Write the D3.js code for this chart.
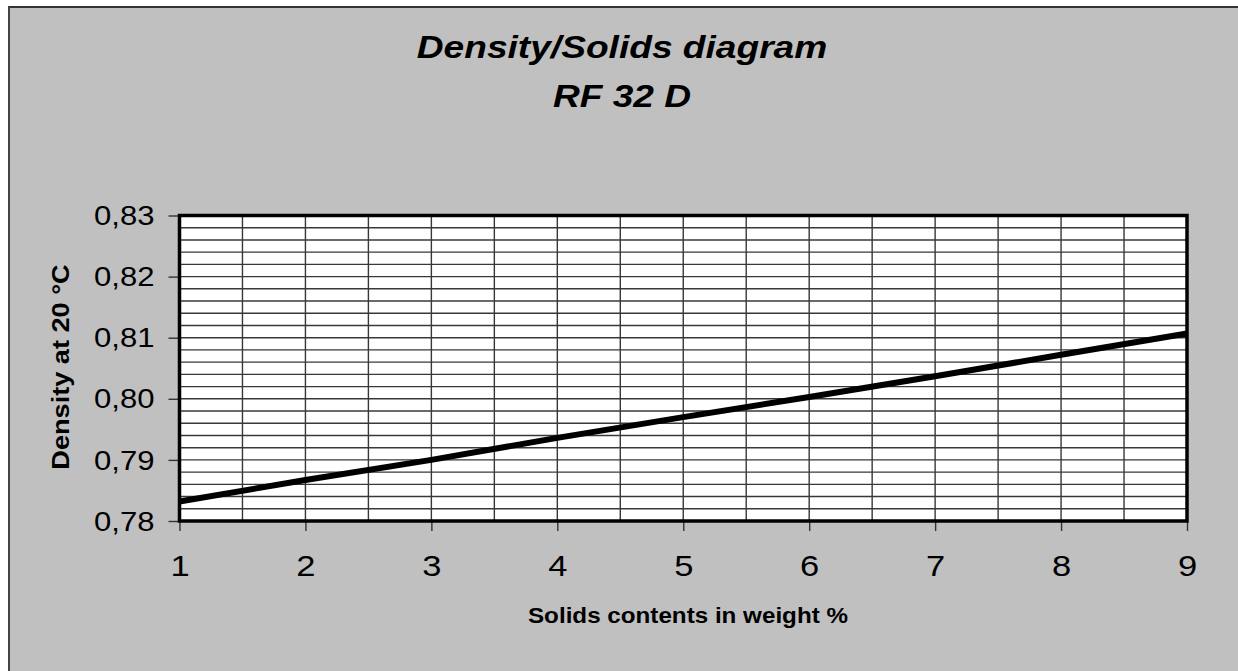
<!DOCTYPE html>
<html>
<head>
<meta charset="utf-8">
<script src="https://cdn.jsdelivr.net/npm/d3@7"></script>
<style>
  body { margin: 0; background: #fff; }
  text { font-family: "Liberation Sans", Arial, sans-serif; fill: #000; }
</style>
</head>
<body>
<div id="chart"></div>
<script>
// data
const solids = [1, 2, 3, 4, 5, 6, 7, 8, 9];
const density = [0.7832, 0.7867, 0.7900, 0.7936, 0.7970, 0.8003, 0.8037, 0.8072, 0.8107];
const yTicks = [0.78, 0.79, 0.80, 0.81, 0.82, 0.83];
const xTicks = [1, 2, 3, 4, 5, 6, 7, 8, 9];
const titleLines = ['Density/Solids diagram', 'RF 32 D'];
const xLabel = 'Solids contents in weight %';
const yLabel = 'Density at 20 °C';

const W = 1238, H = 671;
const pL = 179.5, pR = 1187, pT = 215.5, pB = 521;

// the reference text is drawn a bit wider than the font
const stretch = (sel, k) => sel.each(function () {
    d3.select(this)
        .attr('textLength', this.getComputedTextLength() * k)
        .attr('lengthAdjust', 'spacingAndGlyphs');
});

const svg = d3.select('#chart')
    .append('svg')
        .attr('width', W)
        .attr('height', H);

// grey panel
svg.append('rect')
    .attr('x', 8).attr('y', 7)
    .attr('width', W).attr('height', H)
    .attr('fill', '#c0c0c0');
svg.append('line')
    .attr('x1', 8).attr('x2', W).attr('y1', 7).attr('y2', 7)
    .attr('stroke', '#333').attr('stroke-width', 2);
svg.append('line')
    .attr('x1', 9).attr('x2', 9).attr('y1', 7).attr('y2', H)
    .attr('stroke', '#444').attr('stroke-width', 2);

const x = d3.scaleLinear().domain([1, 9]).range([pL, pR]);
const y = d3.scaleLinear().domain([0.78, 0.83]).range([pB, pT]);

svg.append('rect')
    .attr('x', pL).attr('y', pT)
    .attr('width', pR - pL).attr('height', pB - pT)
    .attr('fill', '#fff');

// grid: every 0.5 across, every 0.002 up
svg.append('g')
    .selectAll('line')
    .data(d3.range(1.5, 9, 0.5))
    .enter().append('line')
        .attr('x1', d => x(d)).attr('x2', d => x(d))
        .attr('y1', pT).attr('y2', pB)
        .attr('stroke', '#383838').attr('stroke-width', 1.4);

svg.append('g')
    .selectAll('line')
    .data(d3.range(1, 25).map(i => 0.78 + i * 0.002))
    .enter().append('line')
        .attr('x1', pL).attr('x2', pR)
        .attr('y1', d => y(d)).attr('y2', d => y(d))
        .attr('stroke', '#383838').attr('stroke-width', 1.4);

// axes
const yAxis = svg.append('g')
    .attr('transform', `translate(${pL}, 0)`)
    .call(d3.axisLeft(y).tickValues(yTicks).tickSize(11).tickPadding(14)
        .tickFormat(d => d3.format('.2f')(d).replace('.', ',')));
yAxis.select('.domain').remove();
yAxis.selectAll('line').attr('stroke', '#333').attr('stroke-width', 1.4);
yAxis.selectAll('text')
    .attr('font-size', 27)
    .attr('dy', '0.34em')
    .call(stretch, 1.15);

const xAxis = svg.append('g')
    .attr('transform', `translate(0, ${pB})`)
    .call(d3.axisBottom(x).tickValues(xTicks).tickSize(10).tickPadding(30));
xAxis.select('.domain').remove();
xAxis.selectAll('line').attr('stroke', '#333').attr('stroke-width', 1.4);
xAxis.selectAll('text')
    .attr('font-size', 30)
    .attr('dy', '0.5em')
    .call(stretch, 1.15);

// frame
svg.append('rect')
    .attr('x', pL).attr('y', pT)
    .attr('width', pR - pL).attr('height', pB - pT)
    .attr('fill', 'none')
    .attr('stroke', '#000').attr('stroke-width', 3.5);

// series
svg.append('path')
    .datum(solids.map((s, i) => [s, density[i]]))
    .attr('d', d3.line().x(d => x(d[0])).y(d => y(d[1])))
    .attr('fill', 'none')
    .attr('stroke', '#000')
    .attr('stroke-width', 6);

// titles
svg.selectAll('.title')
    .data(titleLines)
    .enter().append('text')
        .attr('class', 'title')
        .attr('x', 622)
        .attr('y', (d, i) => 58 + i * 49)
        .attr('text-anchor', 'middle')
        .attr('font-size', 32)
        .attr('font-weight', 'bold')
        .attr('font-style', 'italic')
        .text(d => d)
        .call(stretch, 1.16);

svg.append('text')
    .attr('x', 688).attr('y', 623)
    .attr('text-anchor', 'middle')
    .attr('font-size', 22)
    .attr('font-weight', 'bold')
    .text(xLabel)
    .call(stretch, 1.1);

svg.append('text')
    .attr('transform', `translate(69, 367) rotate(-90)`)
    .attr('text-anchor', 'middle')
    .attr('font-size', 24)
    .attr('font-weight', 'bold')
    .text(yLabel)
    .call(stretch, 1.13);
</script>
</body>
</html>
